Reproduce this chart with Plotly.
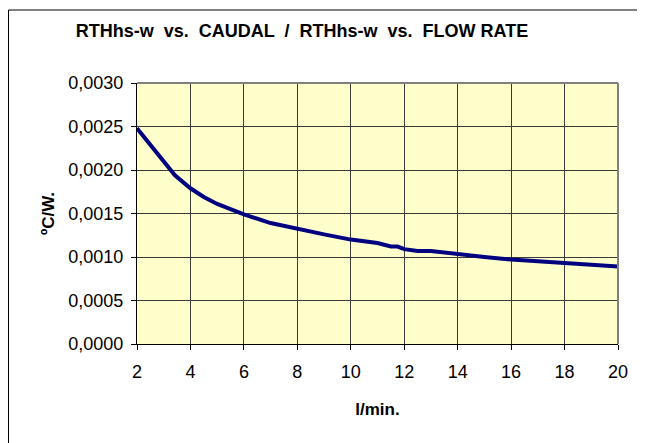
import plotly.graph_objects as go

flow_lpm = [2, 2.5, 3, 3.42, 4, 4.5, 5, 6, 7, 8, 9, 10, 11, 11.5, 11.75, 12, 12.5, 13, 14, 15, 16, 17, 18, 19, 20]
rth_cw = [0.00248, 0.00229, 0.00210, 0.00194, 0.00179, 0.00169, 0.00161, 0.00149, 0.00139, 0.00132,
          0.00126, 0.00120, 0.00116, 0.00112, 0.00112, 0.00109, 0.00107, 0.00107, 0.00103, 0.00100,
          0.00097, 0.00095, 0.00093, 0.00091, 0.00089]

x_ticks = [2, 4, 6, 8, 10, 12, 14, 16, 18, 20]
y_ticks = [0.0, 0.0005, 0.0010, 0.0015, 0.0020, 0.0025, 0.0030]
y_tick_labels = ["0,0000", "0,0005", "0,0010", "0,0015", "0,0020", "0,0025", "0,0030"]

W, H = 645, 443
ml, mr, mt, mb = 129, 35, 75, 107

fig = go.Figure()
fig.add_trace(go.Scatter(x=flow_lpm, y=rth_cw, mode="lines",
                         line=dict(color="#000080", width=4), showlegend=False))

font = "Liberation Sans, Arial, sans-serif"
fig.update_layout(
    width=W, height=H,
    margin=dict(l=ml, r=mr, t=mt, b=mb),
    paper_bgcolor="white",
    plot_bgcolor="#FFFFCC",
    font=dict(family=font, size=17, color="black"),
    title=dict(text="<b>RTHhs-w  vs.  CAUDAL  /  RTHhs-w  vs.  FLOW RATE</b>",
               x=(302 - 8) / W, xanchor="center", y=1 - 23 / H, yanchor="middle",
               font=dict(size=18, family=font)),
    xaxis=dict(range=[2, 20], tickvals=x_ticks, ticktext=[str(v) for v in x_ticks],
               showgrid=True, gridcolor="#3a3a3a", gridwidth=1,
               showline=True, linecolor="black", linewidth=1,
               ticks="outside", ticklen=5, tickcolor="black",
               ticklabelstandoff=6,
               tickfont=dict(size=18), zeroline=False,
               title=dict(text="<b>l/min.</b>", font=dict(size=17), standoff=22)),
    yaxis=dict(range=[0, 0.003], tickvals=y_ticks, ticktext=y_tick_labels,
               showgrid=True, gridcolor="#3a3a3a", gridwidth=1,
               showline=True, linecolor="black", linewidth=1,
               ticks="outside", ticklen=5, tickcolor="black",
               ticklabelstandoff=4,
               tickfont=dict(size=18), zeroline=False,
               title=dict(text="<b>ºC/W.</b>", font=dict(size=17), standoff=9)),
)

# plot area gray top/right border
fig.add_shape(type="line", xref="paper", yref="paper", x0=0, x1=1, y0=1, y1=1,
              line=dict(color="#808080", width=2))
fig.add_shape(type="line", xref="paper", yref="paper", x0=1, x1=1, y0=0, y1=1,
              line=dict(color="#808080", width=2))

# chart outer border (top and left visible)
def px_x(p):
    return (p - ml) / (W - ml - mr)

def px_y(p):
    return 1 - (p - mt) / (H - mt - mb)

fig.add_shape(type="line", xref="paper", yref="paper", x0=px_x(0.5), x1=px_x(W), y0=px_y(2), y1=px_y(2),
              line=dict(color="black", width=1))
fig.add_shape(type="line", xref="paper", yref="paper", x0=px_x(0.5), x1=px_x(0.5), y0=px_y(2), y1=px_y(H),
              line=dict(color="black", width=1))

fig.write_html("out.html")
